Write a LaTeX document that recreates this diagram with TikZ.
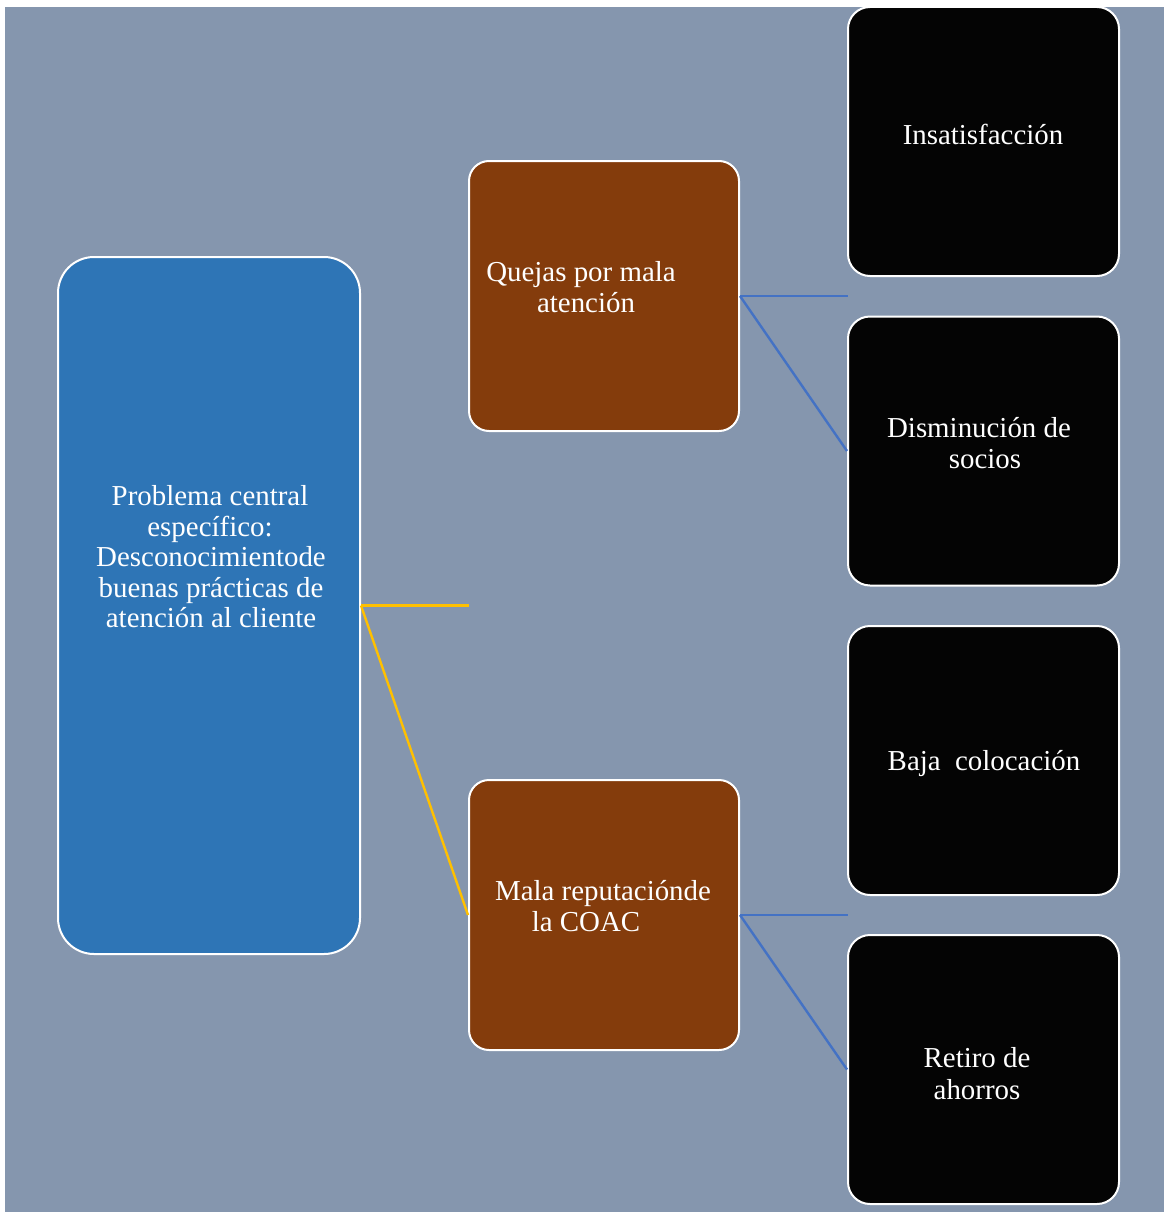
\documentclass[tikz,border=0pt]{standalone}
\usepackage{fontspec}
\setmainfont{Liberation Serif}
\definecolor{canvas}{RGB}{133,150,174}
\definecolor{coreblue}{RGB}{46,117,182}
\definecolor{causebrown}{RGB}{132,60,12}
\definecolor{effectblack}{RGB}{4,4,4}
\definecolor{linkyellow}{RGB}{255,192,0}
\definecolor{linkblue}{RGB}{68,114,196}
\tikzset{
  card/.style={draw=white, line width=2pt, inner sep=0pt, anchor=center},
  corebox/.style={card, fill=coreblue, rounded corners=36pt, minimum width=302pt, minimum height=697pt},
  causebox/.style={card, fill=causebrown, rounded corners=20pt, minimum width=270pt, minimum height=270pt},
  effectbox/.style={card, fill=effectblack, rounded corners=22pt, minimum width=271pt, minimum height=269pt},
  label/.style={text=white, inner sep=0pt, anchor=base, font=\fontsize{28.9pt}{31pt}\selectfont},
  ylink/.style={draw=linkyellow, line width=2.4pt},
  blink/.style={draw=linkblue, line width=2.4pt}
}
\begin{document}
\begin{tikzpicture}[x=1pt,y=-1pt]
  \useasboundingbox (0,0) rectangle (1164,1212);
  \fill[white] (0,0) rectangle (1164,1212);
  \fill[canvas] (5,7) rectangle (1164,1212);

  % boxes
  \node[corebox] (core) at (209,605.5) {};
  \node[causebox] (quejas) at (604,296) {};
  \node[causebox] (mala) at (604,915) {};
  \node[effectbox] (insat) at (983.5,141.5) {};
  \node[effectbox] (dismi) at (983.5,451) {};
  \node[effectbox] (baja) at (983.5,760.5) {};
  \node[effectbox] (retiro) at (983.5,1069.5) {};

  % free ends of the short horizontal branches
  \coordinate (coreend) at (469,605.5);
  \coordinate (quejasend) at (848,296);
  \coordinate (malaend) at (848,915);

  % connectors
  \draw[ylink] (core.east) -- (coreend);
  \draw[ylink] (core.east) -- (mala.west);
  \draw[blink] (quejas.east) -- (quejasend);
  \draw[blink] (quejas.east) -- (dismi.west);
  \draw[blink] (mala.east) -- (malaend);
  \draw[blink] (mala.east) -- (retiro.west);

  % texts
  \node[label] (core1) at (210,505) {Problema central};
  \node[label] (core2) at (210,536) {específico:};
  \node[label] (core3) at (211,566) {Desconocimientode};
  \node[label] (core4) at (211,597) {buenas prácticas de};
  \node[label] (core5) at (211,627) {atención al cliente};

  \node[label] (quejas1) at (581,281) {Quejas por mala};
  \node[label] (quejas2) at (586,312) {atención};

  \node[label] (mala1) at (603,900) {Mala reputaciónde};
  \node[label] (mala2) at (586,931) {la COAC};

  \node[label] (insat1) at (983,145) {Insatisfacción};
  \node[label] (dismi1) at (979,437) {Disminución de};
  \node[label] (dismi2) at (985,468) {socios};
  \node[label] (baja1) at (984,770) {Baja\ \ colocación};
  \node[label] (retiro1) at (977,1067) {Retiro de};
  \node[label] (retiro2) at (977,1099) {ahorros};
\end{tikzpicture}
\end{document}
